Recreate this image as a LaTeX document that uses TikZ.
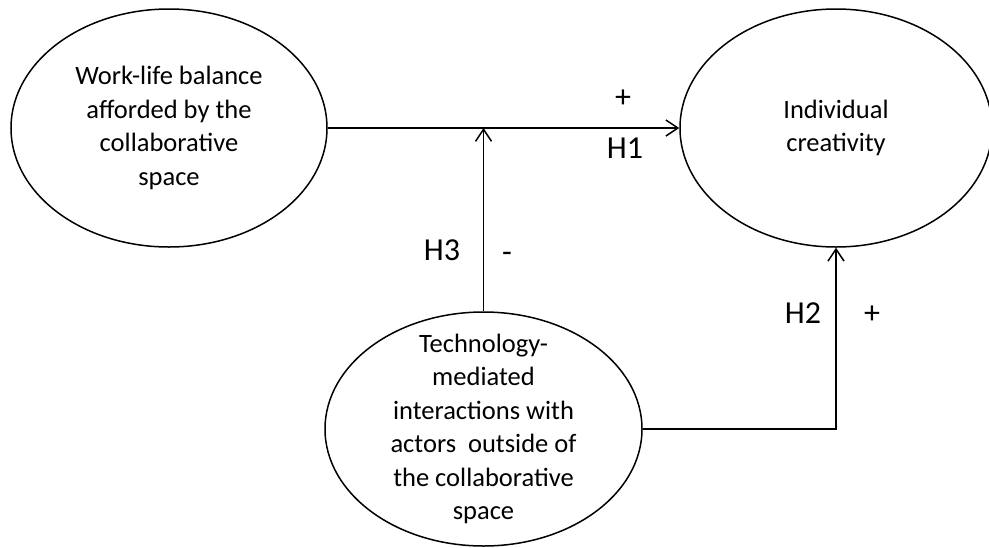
\documentclass[tikz,border=0pt]{standalone}
\usepackage{fontspec}
\setmainfont{Carlito}
\usetikzlibrary{positioning,shapes.geometric,arrows.meta}

\begin{document}
\begin{tikzpicture}[x=1pt, y=-1pt, every node/.style={font=\fontsize{26.5}{33.5}\selectfont}, construct/.style={draw, ellipse, line width=1.5pt, inner sep=0pt, minimum width=316pt, minimum height=238pt, align=center}, ctext/.style={align=center, inner sep=0pt}, arr/.style={-{Straight Barb[length=12pt,width=16pt]}, line width=1.5pt}, hyp/.style={font=\fontsize{32}{38}\selectfont, inner sep=0pt}]
\useasboundingbox (0,0) rectangle (989,547);
\node[construct] (wlb) at (169,128) {Work-life balance\\afforded by the\\collaborative\\space};
\node[construct, minimum width=312pt] (ic) at (836,128) {Individual\\creativity};
\node[construct, minimum width=317pt, minimum height=234pt] (tmi) at (483.5,429) {};
\node[ctext] (tmitext) at (tmi) {Technology-\\mediated\\interactions with\\actors\ \ outside of\\the collaborative\\space};
\node[hyp] (plusH1) at (623,99) {+};
\node[hyp] (H1) at (625,148) {H1};
\node[hyp] (H3) at (442,250) {H3};
\node[hyp] (minusH3) at (507,257) {-};
\node[hyp] (H2) at (803,313) {H2};
\node[hyp] (plusH2) at (872,315) {+};
\draw[arr] (wlb.east) -- (ic.west);
\draw[arr] (tmi.north) -- (tmi.north |- wlb.east);
\draw[arr] (tmi.east) -| (ic.south);
\end{tikzpicture}
\end{document}
